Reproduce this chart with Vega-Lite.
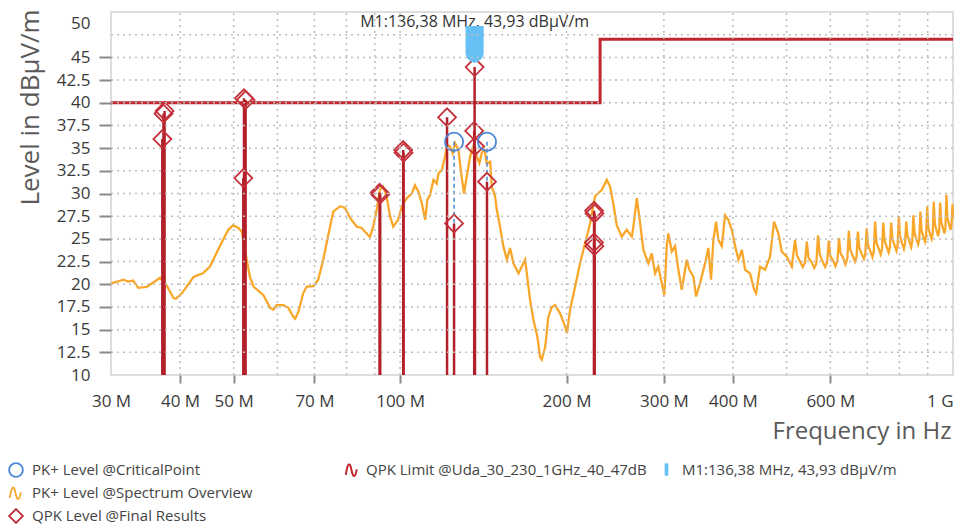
{
  "$schema": "https://vega.github.io/schema/vega-lite/v6.json",
  "width": 842,
  "height": 363,
  "autosize": {"type": "none"},
  "padding": {"left": 111, "top": 12, "right": 2, "bottom": 149},
  "background": "white",
  "config": {
    "view": {"stroke": "#d4d4d4", "strokeWidth": 1.5},
    "font": "Open Sans",
    "axis": {
      "labelFont": "Open Sans",
      "labelFontSize": 17,
      "labelColor": "#3a3a3a",
      "titleFont": "Open Sans",
      "titleFontWeight": "normal",
      "titleColor": "#5a5a5a",
      "domain": false,
      "ticks": true,
      "tickColor": "#8a8a8a",
      "tickWidth": 2
    },
    "legend": {
      "labelFont": "Open Sans",
      "labelFontSize": 15,
      "labelColor": "#444444",
      "labelLimit": 400,
      "padding": 0,
      "title": null
    }
  },
  "datasets": {
    "spectrum": [
      {"f":30.0,"level":20.1},{"f":30.8,"level":20.3},{"f":31.6,"level":20.5},{"f":32.2,"level":20.3},{"f":32.9,"level":20.4},{"f":33.6,"level":19.6},{"f":34.8,"level":19.7},{"f":36.0,"level":20.3},{"f":36.8,"level":20.7},{"f":37.8,"level":19.9},{"f":38.9,"level":18.5},{"f":39.3,"level":18.4},{"f":40.3,"level":19.0},{"f":42.3,"level":20.8},{"f":43.1,"level":21.0},{"f":44.0,"level":21.2},{"f":45.3,"level":21.95},{"f":47.2,"level":24.2},{"f":48.9,"level":26.0},{"f":49.9,"level":26.5},{"f":51.0,"level":26.2},{"f":51.7,"level":25.8},{"f":52.8,"level":22.7},{"f":53.5,"level":20.8},{"f":54.3,"level":19.75},{"f":56.6,"level":18.8},{"f":58.2,"level":17.4},{"f":59.0,"level":17.2},{"f":59.8,"level":17.7},{"f":61.5,"level":17.7},{"f":62.8,"level":17.4},{"f":64.1,"level":16.4},{"f":64.6,"level":16.2},{"f":65.5,"level":17.0},{"f":66.8,"level":19.0},{"f":67.8,"level":19.75},{"f":69.7,"level":19.8},{"f":71.1,"level":20.5},{"f":72.6,"level":22.7},{"f":74.2,"level":25.5},{"f":75.7,"level":28.0},{"f":77.9,"level":28.6},{"f":79.5,"level":28.4},{"f":81.2,"level":27.3},{"f":83.5,"level":26.35},{"f":85.2,"level":26.2},{"f":87.0,"level":25.6},{"f":88.2,"level":25.2},{"f":89.4,"level":26.35},{"f":90.7,"level":28.2},{"f":91.9,"level":30.4},{"f":93.2,"level":30.75},{"f":94.5,"level":29.7},{"f":95.9,"level":27.5},{"f":97.2,"level":26.35},{"f":99.2,"level":27.1},{"f":100.7,"level":28.55},{"f":102.8,"level":29.5},{"f":105.0,"level":30.0},{"f":106.4,"level":30.9},{"f":107.9,"level":30.2},{"f":109.5,"level":28.9},{"f":111.0,"level":27.1},{"f":112.0,"level":29.3},{"f":113.3,"level":29.85},{"f":114.9,"level":31.5},{"f":116.5,"level":31.1},{"f":117.3,"level":32.2},{"f":119.0,"level":32.6},{"f":120.6,"level":34.1},{"f":121.5,"level":35.35},{"f":123.1,"level":35.2},{"f":124.5,"level":34.45},{"f":125.7,"level":35.55},{"f":127.5,"level":34.8},{"f":129.3,"level":31.7},{"f":130.5,"level":30.0},{"f":132.0,"level":31.9},{"f":133.9,"level":34.1},{"f":135.7,"level":35.2},{"f":137.6,"level":34.1},{"f":139.1,"level":33.35},{"f":140.5,"level":34.45},{"f":141.9,"level":35.0},{"f":143.5,"level":33.3},{"f":145.5,"level":33.5},{"f":146.5,"level":30.75},{"f":148.5,"level":29.7},{"f":149.6,"level":28.2},{"f":151.6,"level":26.35},{"f":153.7,"level":24.2},{"f":156.0,"level":22.7},{"f":158.1,"level":24.0},{"f":160.3,"level":22.3},{"f":163.7,"level":21.2},{"f":166.0,"level":21.95},{"f":168.3,"level":22.7},{"f":169.5,"level":21.2},{"f":171.8,"level":18.3},{"f":174.2,"level":16.1},{"f":177.1,"level":14.25},{"f":179.1,"level":12.0},{"f":180.4,"level":11.7},{"f":183.0,"level":13.1},{"f":185.4,"level":16.4},{"f":188.1,"level":17.5},{"f":190.7,"level":17.7},{"f":194.7,"level":16.8},{"f":198.9,"level":15.3},{"f":200.3,"level":14.6},{"f":203.0,"level":17.2},{"f":207.3,"level":19.75},{"f":211.6,"level":22.3},{"f":216.0,"level":24.5},{"f":220.6,"level":26.7},{"f":225.2,"level":29.7},{"f":231.7,"level":30.4},{"f":236.5,"level":31.5},{"f":239.8,"level":30.75},{"f":243.0,"level":28.9},{"f":246.5,"level":26.5},{"f":251.7,"level":25.25},{"f":257.0,"level":26.0},{"f":262.5,"level":25.25},{"f":264.2,"level":26.35},{"f":268.0,"level":29.5},{"f":270.7,"level":27.5},{"f":275.4,"level":23.8},{"f":281.2,"level":22.3},{"f":285.2,"level":23.4},{"f":289.2,"level":21.2},{"f":293.1,"level":21.95},{"f":297.3,"level":20.1},{"f":300.6,"level":18.8},{"f":303.6,"level":24.2},{"f":305.6,"level":25.6},{"f":310.0,"level":23.6},{"f":314.3,"level":24.2},{"f":318.6,"level":21.6},{"f":323.2,"level":19.4},{"f":329.9,"level":22.7},{"f":333.6,"level":21.6},{"f":339.2,"level":20.85},{"f":343.0,"level":18.65},{"f":348.7,"level":20.1},{"f":356.1,"level":22.3},{"f":361.0,"level":24.0},{"f":365.1,"level":20.5},{"f":368.6,"level":24.9},{"f":372.8,"level":26.9},{"f":376.4,"level":24.9},{"f":381.8,"level":24.2},{"f":387.0,"level":27.6},{"f":392.4,"level":27.1},{"f":398.0,"level":26.0},{"f":403.6,"level":24.2},{"f":409.2,"level":22.7},{"f":415.0,"level":23.8},{"f":420.8,"level":21.6},{"f":429.5,"level":21.2},{"f":436.8,"level":19.4},{"f":440.4,"level":19.0},{"f":447.7,"level":21.95},{"f":457.2,"level":21.6},{"f":466.8,"level":23.05},{"f":474.6,"level":26.9},{"f":483.2,"level":25.6},{"f":490.1,"level":23.6},{"f":500.5,"level":23.05},{"f":511.0,"level":21.95},
      {"f":518,"level":24.9},{"f":522,"level":23.2},{"f":528,"level":22.6},{"f":535,"level":21.9},{"f":540,"level":22.4},
      {"f":544,"level":24.7},{"f":548,"level":22.9},{"f":554,"level":22.5},{"f":561,"level":21.8},{"f":566,"level":22.3},
      {"f":570,"level":25.4},{"f":574,"level":23.3},{"f":580,"level":22.6},{"f":587,"level":21.9},{"f":592,"level":22.4},
      {"f":596,"level":24.8},{"f":600,"level":23.1},{"f":606,"level":22.7},{"f":613,"level":22.0},{"f":618,"level":22.6},
      {"f":622,"level":25.1},{"f":626,"level":23.4},{"f":632,"level":23.0},{"f":639,"level":22.2},{"f":644,"level":22.8},
      {"f":648,"level":25.9},{"f":652,"level":23.8},{"f":658,"level":23.2},{"f":665,"level":22.5},{"f":669,"level":23.0},
      {"f":673,"level":25.8},{"f":677,"level":24.0},{"f":683,"level":23.4},{"f":690,"level":22.8},{"f":694,"level":23.3},
      {"f":698,"level":26.2},{"f":702,"level":24.3},{"f":708,"level":23.7},{"f":715,"level":23.0},{"f":719,"level":23.6},
      {"f":723,"level":26.9},{"f":727,"level":24.6},{"f":733,"level":24.0},{"f":740,"level":23.3},{"f":744,"level":23.9},
      {"f":748,"level":26.8},{"f":752,"level":24.8},{"f":758,"level":24.2},{"f":765,"level":23.5},{"f":769,"level":24.1},
      {"f":773,"level":26.8},{"f":777,"level":25.0},{"f":783,"level":24.4},{"f":790,"level":23.7},{"f":794,"level":24.3},
      {"f":798,"level":27.5},{"f":802,"level":25.3},{"f":808,"level":24.6},{"f":815,"level":23.9},{"f":819,"level":24.5},
      {"f":823,"level":26.9},{"f":827,"level":25.4},{"f":833,"level":24.8},{"f":840,"level":24.1},{"f":844,"level":24.7},
      {"f":848,"level":27.6},{"f":852,"level":25.7},{"f":858,"level":25.0},{"f":865,"level":24.4},{"f":869,"level":25.0},
      {"f":873,"level":28.0},{"f":877,"level":26.0},{"f":883,"level":25.3},{"f":890,"level":24.7},{"f":894,"level":25.3},
      {"f":898,"level":28.55},{"f":902,"level":26.3},{"f":908,"level":25.6},{"f":915,"level":25.0},{"f":919,"level":25.6},
      {"f":923,"level":29.1},{"f":927,"level":26.7},{"f":933,"level":26.0},{"f":940,"level":25.3},{"f":944,"level":25.9},
      {"f":948,"level":29.0},{"f":952,"level":26.9},{"f":958,"level":26.3},{"f":965,"level":25.6},{"f":969,"level":26.2},
      {"f":973,"level":29.85},{"f":977,"level":27.3},{"f":983,"level":26.7},{"f":990,"level":26.0},{"f":994,"level":26.6},
      {"f":998,"level":28.8},{"f":1000,"level":27.2}
    ],
    "limit": [
      {"f":30,"level":40,"i":0},{"f":230,"level":40,"i":1},{"f":230,"level":47,"i":2},{"f":1000,"level":47,"i":3}
    ],
    "final": [
      {"f":37.15,"level":36.0},{"f":37.5,"level":39.1},{"f":37.33,"level":38.8},
      {"f":52.2,"level":40.5},{"f":52.55,"level":40.3},{"f":52.05,"level":31.7},
      {"f":91.8,"level":30.1},{"f":92.05,"level":29.9},
      {"f":101.3,"level":34.8},{"f":101.45,"level":34.5},
      {"f":121.6,"level":38.4},
      {"f":125.2,"level":26.7},
      {"f":136.38,"level":43.93},{"f":136.15,"level":36.9},{"f":136.6,"level":35.2},
      {"f":143.6,"level":31.3},
      {"f":224.3,"level":28.1},{"f":224.7,"level":27.8},{"f":224.3,"level":24.6},{"f":224.6,"level":24.2}
    ],
    "critical": [
      {"f":125.2,"level":35.7,"qpk":26.7},{"f":143.6,"level":35.7,"qpk":31.3}
    ],
    "marker": [
      {"f":136.38,"level":43.93,"label":"M1:136,38 MHz, 43,93 dBµV/m"}
    ],
    "xgrid": [
      {"f":40,"level":10},{"f":50,"level":10},{"f":60,"level":10},{"f":70,"level":10},{"f":80,"level":10},{"f":90,"level":10},{"f":100,"level":10},{"f":200,"level":10},{"f":300,"level":10},{"f":400,"level":10},{"f":500,"level":10},{"f":600,"level":10},{"f":700,"level":10},{"f":800,"level":10},{"f":900,"level":10}
    ],
    "ygrid": [
      {"f":30,"level":12.5},{"f":30,"level":15},{"f":30,"level":17.5},{"f":30,"level":20},{"f":30,"level":22.5},{"f":30,"level":25},{"f":30,"level":27.5},{"f":30,"level":30},{"f":30,"level":32.5},{"f":30,"level":35},{"f":30,"level":37.5},{"f":30,"level":40},{"f":30,"level":42.5},{"f":30,"level":45},{"f":30,"level":47.5}
    ]
  },
  "encoding": {
    "x": {
      "field": "f", "type": "quantitative",
      "scale": {"type": "log", "domain": [30, 1000], "nice": false},
      "axis": {
        "values": [30,40,50,70,100,200,300,400,600,1000],
        "labelExpr": "datum.value == 1000 ? '1 G' : datum.value + ' M'",
        "labelOverlap": false,
        "labelFlush": false,
        "labelAlign": {"condition": {"test": "datum.value == 1000", "value": "right"}, "value": "center"},
        "grid": false,
        "tickSize": 8,
        "tickOpacity": {"condition": {"test": "datum.value == 30 || datum.value == 1000", "value": 0}, "value": 1},
        "labelPadding": 10,
        "title": "Frequency in Hz",
        "titleFontSize": 24,
        "titleAlign": "right",
        "titleBaseline": "top",
        "titleX": 840,
        "titleY": 44
      }
    },
    "y": {
      "field": "level", "type": "quantitative",
      "scale": {"domain": [10, 50], "nice": false, "zero": false},
      "axis": {
        "values": [10,12.5,15,17.5,20,22.5,25,27.5,30,32.5,35,37.5,40,42.5,45,50],
        "labelExpr": "toString(datum.value)",
        "labelOverlap": false,
        "labelFlush": false,
        "labelBaseline": {"condition": {"test": "datum.value == 50", "value": "top"}, "value": "middle"},
        "labelOffset": {"condition": {"test": "datum.value == 50", "value": 3}, "value": 0},
        "grid": false,
        "tickSize": 12,
        "tickOpacity": {"condition": {"test": "datum.value == 50 || datum.value == 10", "value": 0}, "value": 1},
        "labelPadding": 9,
        "title": "Level in dBµV/m",
        "titleFontSize": 26,
        "titleAngle": -90,
        "titleAlign": "center",
        "titleBaseline": "middle",
        "titleX": -81,
        "titleY": 95
      }
    }
  },
  "layer": [
    {
      "data": {"name": "spectrum"},
      "mark": {"type": "line", "strokeWidth": 2.3, "interpolate": "linear"},
      "encoding": {
        "color": {
          "datum": "PK+ Level @Spectrum Overview", "type": "nominal",
          "scale": {
            "domain": ["PK+ Level @CriticalPoint", "PK+ Level @Spectrum Overview", "QPK Level @Final Results"],
            "range": ["#4a86d6", "#f9a72b", "#c4303a"]
          },
          "legend": {
            "orient": "none", "legendX": -103, "legendY": 450, "title": null,
            "symbolSize": 190, "symbolStrokeWidth": 1.8, "symbolFillColor": "transparent",
            "rowPadding": 2, "labelOffset": 8, "labelLimit": 400,
            "encode": {"symbols": {"update": {"fill": {"value": "transparent"}, "stroke": {"scale": "color", "field": "value"}, "strokeWidth": {"value": 1.8}}}}
          }
        }
      }
    },
    {
      "data": {"name": "limit"},
      "mark": {"type": "line", "strokeWidth": 3},
      "encoding": {
        "order": {"field": "i", "type": "quantitative"},
        "stroke": {
          "datum": "QPK Limit @Uda_30_230_1GHz_40_47dB", "type": "nominal",
          "scale": {"domain": ["QPK Limit @Uda_30_230_1GHz_40_47dB"], "range": ["#c0272e"]},
          "legend": {
            "orient": "none", "legendX": 233, "legendY": 450, "title": null,
            "symbolType": "M-0.9,0.7 C-0.6,-1.2 -0.3,-1.2 -0.05,0.1 C0.2,1.3 0.5,1.0 0.7,-0.1",
            "symbolSize": 190, "symbolStrokeWidth": 2, "labelOffset": 6, "labelLimit": 400
          }
        }
      }
    },
    {
      "data": {"name": "final"},
      "mark": {"type": "rule", "strokeWidth": 2.5, "color": "#b3202a"},
      "encoding": {
        "y2": {"datum": 10}
      }
    },
    {
      "data": {"name": "critical"},
      "mark": {"type": "rule", "strokeWidth": 1.5, "color": "#4a86d6", "strokeDash": [4, 3]},
      "encoding": {
        "y2": {"field": "qpk"}
      }
    },
    {
      "data": {"name": "final"},
      "mark": {"type": "point", "filled": false, "size": 320, "strokeWidth": 1.8, "opacity": 1},
      "encoding": {
        "color": {"datum": "QPK Level @Final Results", "type": "nominal"},
        "shape": {
          "datum": "QPK Level @Final Results", "type": "nominal",
          "scale": {
            "domain": ["PK+ Level @CriticalPoint", "PK+ Level @Spectrum Overview", "QPK Level @Final Results"],
            "range": ["circle", "M-0.9,0.7 C-0.6,-1.2 -0.3,-1.2 -0.05,0.1 C0.2,1.3 0.5,1.0 0.7,-0.1", "diamond"]
          }
        }
      }
    },
    {
      "data": {"name": "critical"},
      "mark": {"type": "point", "filled": false, "size": 330, "strokeWidth": 1.8, "opacity": 1},
      "encoding": {
        "color": {"datum": "PK+ Level @CriticalPoint", "type": "nominal"},
        "shape": {"datum": "PK+ Level @CriticalPoint", "type": "nominal"}
      }
    },
    {
      "data": {"name": "marker"},
      "mark": {"type": "text", "fontSize": 16, "font": "Open Sans", "color": "#333333", "yOffset": -45},
      "encoding": {
        "text": {"field": "label"}
      }
    },
    {
      "data": {"name": "marker"},
      "mark": {"type": "point", "filled": true, "opacity": 1, "size": 1369, "strokeWidth": 0, "yOffset": -22.6,
               "shape": "M-0.49,-1 L0.49,-1 L0.49,0.45 Q0.49,0.75 0.2,0.9 L0,1 L-0.2,0.9 Q-0.49,0.75 -0.49,0.45 Z"},
      "encoding": {
        "fill": {
          "datum": "M1:136,38 MHz, 43,93 dBµV/m", "type": "nominal",
          "scale": {"domain": ["M1:136,38 MHz, 43,93 dBµV/m"], "range": ["#66c0f4"]},
          "legend": {
            "orient": "none", "legendX": 548, "legendY": 450, "title": null,
            "symbolType": "M-0.3,-1 L0.3,-1 L0.3,1 L-0.3,1 Z",
            "symbolSize": 150, "labelOffset": 8, "labelLimit": 400
          }
        }
      }
    },
    {
      "data": {"name": "xgrid"},
      "mark": {"type": "rule", "color": "#bdbdbd", "strokeWidth": 1.5, "strokeDash": [2, 4]},
      "encoding": {
        "y2": {"datum": 50}
      }
    },
    {
      "data": {"name": "ygrid"},
      "mark": {"type": "rule", "color": "#bdbdbd", "strokeWidth": 1.5, "strokeDash": [2, 4]},
      "encoding": {
        "x2": {"datum": 1000}
      }
    }
  ]
}
